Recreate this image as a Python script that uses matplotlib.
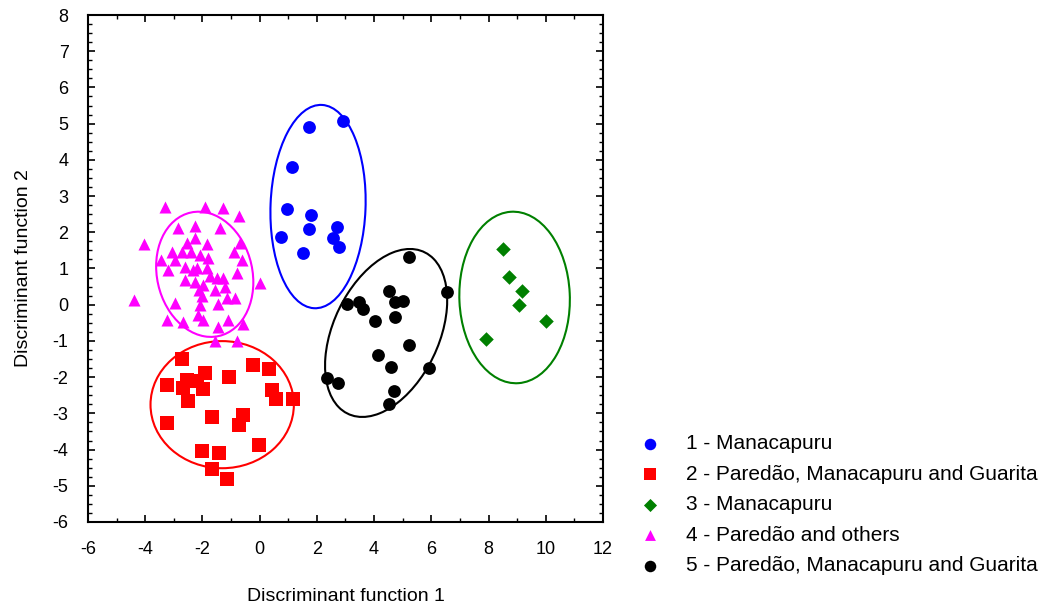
import matplotlib
matplotlib.use("Agg")
from matplotlib import pyplot as plt
from matplotlib.patches import Ellipse
from matplotlib.ticker import MultipleLocator

plt.rcParams['font.family'] = ['Liberation Sans', 'DejaVu Sans']
plt.rcParams['axes.unicode_minus'] = False

# group 1 - Manacapuru
g1_x = [1.73, 2.92, 1.12, 0.97, 1.79, 1.73, 0.76, 2.71, 2.57, 2.78, 1.53]
g1_y = [4.92, 5.08, 3.81, 2.65, 2.48, 2.09, 1.88, 2.15, 1.84, 1.60, 1.44]

# group 2 - Paredao, Manacapuru and Guarita
g2_x = [-2.73, -0.22, 0.34, -1.90, -1.06, -2.55, -2.20, -3.23, -2.67, -1.97, 0.42,
        0.57, -2.49, 1.18, -1.68, -0.57, -0.71, -3.23, -0.01, -2.03, -1.41, -1.68, -1.13]
g2_y = [-1.50, -1.67, -1.78, -1.88, -1.99, -2.08, -2.10, -2.22, -2.31, -2.34, -2.36,
        -2.60, -2.66, -2.60, -3.11, -3.05, -3.32, -3.26, -3.88, -4.04, -4.09, -4.54, -4.81]

# group 3 - Manacapuru
g3_x = [8.52, 8.73, 9.16, 9.08, 10.0, 7.90]
g3_y = [1.53, 0.77, 0.39, -0.01, -0.45, -0.95]

# group 4 - Paredao and others
g4_x = [-3.31, -1.91, -1.29, -0.71, -2.84, -2.26, -1.39, -4.03, -2.26, -2.55, -1.85,
        -0.69, -3.08, -2.73, -2.41, -2.09, -0.90, -3.46, -2.96, -1.80, -0.60, -2.61,
        -3.19, -2.32, -2.18, -1.85, -0.80, -1.74, -1.50, -1.27, -2.61, -2.26, -1.97,
        0.01, -1.21, -1.56, -2.11, -4.39, -2.03, -2.96, -1.13, -0.86, -1.45, -2.09,
        -2.15, -3.25, -2.69, -1.99, -1.10, -0.59, -1.45, -1.56, -0.80]
g4_y = [2.71, 2.71, 2.66, 2.45, 2.11, 2.17, 2.11, 1.68, 1.83, 1.70, 1.68,
        1.70, 1.46, 1.46, 1.46, 1.37, 1.46, 1.23, 1.23, 1.28, 1.23, 1.05,
        0.96, 0.96, 1.00, 1.00, 0.87, 0.79, 0.73, 0.73, 0.68, 0.63, 0.54,
        0.61, 0.48, 0.41, 0.42, 0.13, 0.24, 0.05, 0.18, 0.18, 0.02, -0.01,
        -0.29, -0.42, -0.47, -0.42, -0.42, -0.53, -0.62, -0.99, -0.99]

# group 5 - Paredao, Manacapuru and Guarita
g5_x = [5.23, 6.56, 4.52, 3.06, 3.48, 3.62, 4.73, 5.00, 4.03, 4.73, 5.23, 4.13,
        4.59, 5.93, 2.36, 2.75, 4.70, 4.52]
g5_y = [1.33, 0.34, 0.39, 0.01, 0.08, -0.12, 0.07, 0.11, -0.44, -0.35, -1.11, -1.39,
        -1.71, -1.76, -2.01, -2.15, -2.38, -2.75]

labels = ["1 - Manacapuru",
          "2 - Paredão, Manacapuru and Guarita",
          "3 - Manacapuru",
          "4 - Paredão and others",
          "5 - Paredão, Manacapuru and Guarita"]
colors = ["#0000ff", "#ff0000", "#008000", "#ff00ff", "#000000"]
markers = ["o", "s", "D", "^", "o"]

# ellipses: center x, center y, width, height, angle
ell_cx = [2.04, -1.31, 8.91, -1.92, 4.42]
ell_cy = [2.71, -2.76, 0.20, 0.84, -0.78]
ell_w = [3.32, 5.01, 3.86, 3.64, 5.27]
ell_h = [5.62, 3.51, 4.74, 3.20, 3.46]
ell_a = [-3, 0, 3.5, 131, 51]

fig = plt.figure(figsize=(10.62, 6.07), dpi=100)
ax = fig.add_axes([88/1062, 1-522/607, (603-88)/1062, (522-15)/607])

xs = [g1_x, g2_x, g3_x, g4_x, g5_x]
ys = [g1_y, g2_y, g3_y, g4_y, g5_y]
sizes = [85, 95, 55, 75, 85]

for i in range(5):
    ax.scatter(xs[i], ys[i], c=colors[i], marker=markers[i], s=sizes[i],
               linewidths=0, label=labels[i], zorder=3)
    e = Ellipse((ell_cx[i], ell_cy[i]), ell_w[i], ell_h[i], angle=ell_a[i],
                fill=False, edgecolor=colors[i], linewidth=1.5, zorder=2)
    ax.add_patch(e)

ax.set_xlim(-6, 12)
ax.set_ylim(-6, 8)
ax.xaxis.set_major_locator(MultipleLocator(2))
ax.xaxis.set_minor_locator(MultipleLocator(1))
ax.yaxis.set_major_locator(MultipleLocator(1))
ax.yaxis.set_minor_locator(MultipleLocator(0.25))
ax.tick_params(which='both', direction='in', top=True, right=True, labelsize=13)
ax.tick_params(which='major', length=5, width=1.2)
ax.tick_params(which='minor', length=3, width=1)
ax.tick_params(axis='x', pad=14)
ax.tick_params(axis='y', pad=14)
for s in ax.spines.values():
    s.set_linewidth(1.5)

ax.set_xlabel("Discriminant function 1", fontsize=14, labelpad=21)
ax.set_ylabel("Discriminant function 2", fontsize=14, labelpad=15)

fig.legend(loc='upper left', bbox_to_anchor=(621/1062, 1-426/607), frameon=False,
           fontsize=15, labelspacing=0.55, handletextpad=0.7, scatterpoints=1,
           markerscale=0.9, borderaxespad=0)

fig.savefig("out.png", dpi=100)
